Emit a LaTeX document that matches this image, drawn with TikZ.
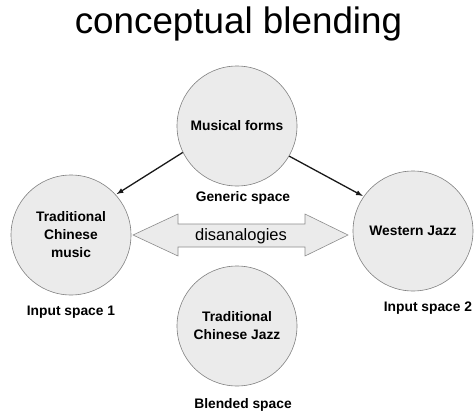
\documentclass[tikz,border=0pt]{standalone}
\usepackage{fontspec}
\setmainfont{Liberation Sans}
\begin{document}
\begin{tikzpicture}[x=1pt,y=-1pt,
  space/.style={circle,draw=black!50,line width=0.6pt,fill=black!8,
    minimum size=120pt,inner sep=0pt,align=center,
    font=\fontsize{13.8}{18}\selectfont\bfseries},
  caption/.style={font=\fontsize{13.8}{18}\selectfont\bfseries,inner sep=0pt},
  link/.style={-latex,line width=1.3pt,black!90,shorten >=1pt}]
\useasboundingbox (0,0) rectangle (475,413);

% title
\node[anchor=base,inner sep=0pt,font=\fontsize{36.8}{40}\selectfont] (title) at (238.5,33) {conceptual blending};

% the four mental spaces
\node[space] (generic) at (237,126) {Musical forms};
\node[space] (input1) at (71,235) {Traditional\\Chinese\\music};
\node[space] (input2) at (413,231) {Western Jazz};
\node[space] (blend) at (237,326) {Traditional\\Chinese Jazz};

% space captions
\node[caption] (capgeneric) at (243,198) {Generic space};
\node[caption] (capin1) at (71,312) {Input space 1};
\node[caption] (capin2) at (428,308) {Input space 2};
\node[caption] (capblend) at (243,405) {Blended space};

% projections from the generic space
\draw[link] (generic.206) -- (input1.42);
\draw[link] (generic.330) -- (input2.145);

% two-headed block arrow between the inputs
\draw[draw=black!45,line width=0.6pt,fill=black!8]
  (133,235) -- (178,214) -- (178,224) -- (305,224) -- (305,214) -- (348,235)
  -- (305,256) -- (305,247) -- (178,247) -- (178,256) -- cycle;
\node[inner sep=0pt,font=\fontsize{16.5}{18}\selectfont] (disan) at (241,236) {disanalogies};
\end{tikzpicture}
\end{document}
